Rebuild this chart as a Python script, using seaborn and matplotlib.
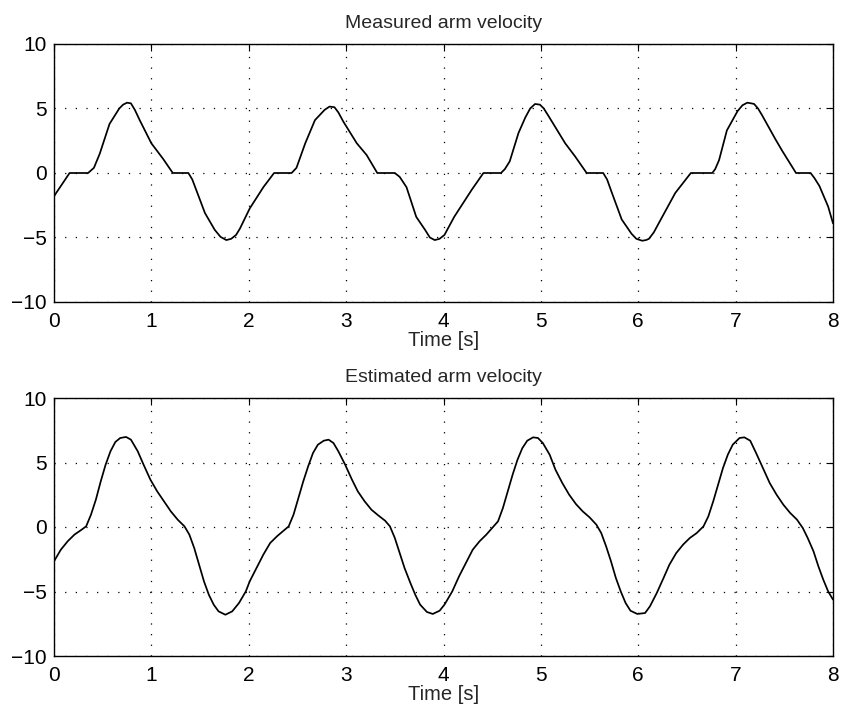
import matplotlib
matplotlib.use("Agg")
import matplotlib.pyplot as plt
import seaborn as sns
import pandas as pd

# measured arm velocity
t_meas = [0, 0.16, 0.35, 0.41, 0.47, 0.57, 0.67, 0.71, 0.75, 0.79,
          0.83, 0.88, 1.0, 1.12, 1.22, 1.38, 1.42, 1.46, 1.55, 1.65,
          1.71, 1.77, 1.82, 1.87, 1.91, 2.01, 2.15, 2.26, 2.44, 2.49,
          2.58, 2.68, 2.78, 2.83, 2.88, 2.92, 2.97, 3.11, 3.21, 3.32,
          3.5, 3.55, 3.62, 3.72, 3.81, 3.86, 3.91, 3.96, 4.01, 4.11,
          4.29, 4.41, 4.59, 4.63, 4.68, 4.77, 4.84, 4.89, 4.94, 4.99,
          5.03, 5.08, 5.25, 5.35, 5.47, 5.64, 5.68, 5.73, 5.83, 5.93,
          5.98, 6.04, 6.08, 6.11, 6.16, 6.21, 6.38, 6.54, 6.76, 6.79,
          6.83, 6.91, 7.02, 7.07, 7.12, 7.16, 7.19, 7.23, 7.27, 7.41,
          7.48, 7.62, 7.77, 7.81, 7.86, 7.95, 8.0]
v_meas = [-1.8, 0, 0, 0.4, 1.5, 3.8, 5.0, 5.3, 5.45, 5.4,
          4.9, 4.1, 2.3, 1.1, 0, 0, -0.5, -1.3, -3.1, -4.4,
          -4.95, -5.2, -5.1, -4.8, -4.3, -2.75, -1.1, 0, 0, 0.4,
          2.3, 4.1, 4.9, 5.15, 5.1, 4.7, 4.0, 2.3, 1.4, 0,
          0, -0.3, -1.1, -3.4, -4.4, -5.0, -5.2, -5.1, -4.8, -3.4,
          -1.3, 0, 0, 0.3, 0.9, 3.1, 4.3, 5.0, 5.35, 5.3,
          5.0, 4.4, 2.3, 1.3, 0, 0, -0.5, -1.55, -3.6, -4.7,
          -5.1, -5.25, -5.2, -5.1, -4.6, -3.9, -1.55, 0, 0, 0.3,
          1.0, 3.3, 4.8, 5.25, 5.45, 5.4, 5.35, 5.0, 4.5, 2.6,
          1.7, 0, 0, -0.4, -1.0, -2.6, -3.9]

# estimated arm velocity
t_est = [0, 0.07, 0.14, 0.21, 0.27, 0.33, 0.38, 0.43, 0.48, 0.53,
         0.58, 0.63, 0.68, 0.74, 0.79, 0.86, 0.92, 0.99, 1.06, 1.13,
         1.2, 1.27, 1.34, 1.39, 1.44, 1.49, 1.54, 1.59, 1.64, 1.69,
         1.76, 1.83, 1.9, 1.97,
         2.01, 2.08, 2.15, 2.22, 2.29, 2.35, 2.41, 2.46, 2.51, 2.56,
         2.61, 2.66, 2.71, 2.77, 2.82, 2.87, 2.92, 2.99, 3.06, 3.12,
         3.19, 3.26, 3.33, 3.4, 3.45, 3.5, 3.55, 3.6, 3.66, 3.71,
         3.76, 3.83, 3.89, 3.96, 4.01,
         4.09, 4.16, 4.23, 4.3, 4.37, 4.44, 4.5, 4.56, 4.61, 4.66,
         4.71, 4.76, 4.81, 4.86, 4.92, 4.97, 5.02, 5.09, 5.15, 5.22,
         5.29, 5.36, 5.43, 5.5, 5.57, 5.62, 5.67, 5.72, 5.77, 5.82,
         5.87, 5.92, 5.99,
         6.07, 6.12, 6.19, 6.26, 6.32, 6.39, 6.46, 6.53, 6.6, 6.67,
         6.72, 6.77, 6.82, 6.87, 6.92, 6.97, 7.04, 7.09, 7.15, 7.21,
         7.28, 7.35, 7.42, 7.49, 7.56, 7.63, 7.69, 7.74, 7.8, 7.85,
         7.9, 7.95, 8.0]
v_est = [-2.66, -1.76, -1.11, -0.59, -0.28, 0.05, 0.96, 2.12, 3.54, 4.83,
         5.87, 6.59, 6.9, 6.98, 6.77, 5.87, 4.83, 3.67, 2.76, 1.99,
         1.21, 0.57, 0.05, -0.59, -1.63, -2.92, -4.21, -5.25, -6.02, -6.54,
         -6.8, -6.54, -5.89, -4.99,
         -4.21, -3.18, -2.14, -1.24, -0.72, -0.34, 0.05, 0.96, 2.25, 3.54,
         4.7, 5.74, 6.38, 6.69, 6.77, 6.51, 5.87, 4.83, 3.67, 2.76,
         1.99, 1.34, 0.9, 0.49, 0.05, -0.85, -2.02, -3.18, -4.34, -5.25,
         -6.02, -6.59, -6.74, -6.49, -6.02,
         -4.99, -3.82, -2.79, -1.76, -1.11, -0.59, -0.08, 0.44, 1.47, 2.76,
         4.06, 5.22, 6.12, 6.69, 6.95, 6.9, 6.51, 5.61, 4.44, 3.41,
         2.51, 1.78, 1.21, 0.75, 0.18, -0.47, -1.5, -2.66, -3.95, -4.99,
         -5.89, -6.49, -6.74,
         -6.67, -6.15, -5.12, -3.95, -2.92, -2.02, -1.37, -0.85, -0.47, 0.05,
         0.83, 1.99, 3.28, 4.57, 5.61, 6.38, 6.9, 6.95, 6.69, 5.74,
         4.57, 3.41, 2.51, 1.73, 1.09, 0.57, -0.08, -0.85, -1.89, -3.05,
         -4.08, -4.99, -5.63]

x_ticks = [0, 1, 2, 3, 4, 5, 6, 7, 8]
y_ticks = [-10, -5, 0, 5, 10]

sns.set_style("white")
plt.rcParams['font.family'] = ['Liberation Sans', 'DejaVu Sans']

fig = plt.figure(figsize=(8.43, 7.13), dpi=100)
ax1 = fig.add_axes([54/843, 1 - 302/713, 779/843, 258/713])
ax2 = fig.add_axes([54/843, 1 - 656/713, 779/843, 258/713])

panele = [
    (ax1, t_meas, v_meas, "Measured arm velocity"),
    (ax2, t_est, v_est, "Estimated arm velocity"),
]

for ax, t, v, tytul in panele:
    df = pd.DataFrame({"t": t, "v": v})
    sns.lineplot(data=df, x="t", y="v", ax=ax, color="black",
                 linewidth=1.25, sort=False, estimator=None)
    ax.set_xlim(0, 8)
    ax.set_ylim(-10, 10)
    ax.set_xticks(x_ticks)
    ax.set_yticks(y_ticks)
    ax.grid(True, linestyle=(0, (1, 7.5)), color="black", linewidth=0.9)
    ax.tick_params(direction="in", length=5, top=True, right=True,
                   labelsize=15, colors="black")
    ax.tick_params(axis="x", pad=7)
    ax.tick_params(axis="y", pad=5)
    for s in ax.spines.values():
        s.set_color("black")
        s.set_linewidth(1.0)
    ax.set_title(tytul, fontsize=14, pad=11.5)
    ax.set_xlabel("Time [s]", fontsize=14.5, labelpad=0)
    ax.set_ylabel("")

fig.savefig("out.png", dpi=100)
